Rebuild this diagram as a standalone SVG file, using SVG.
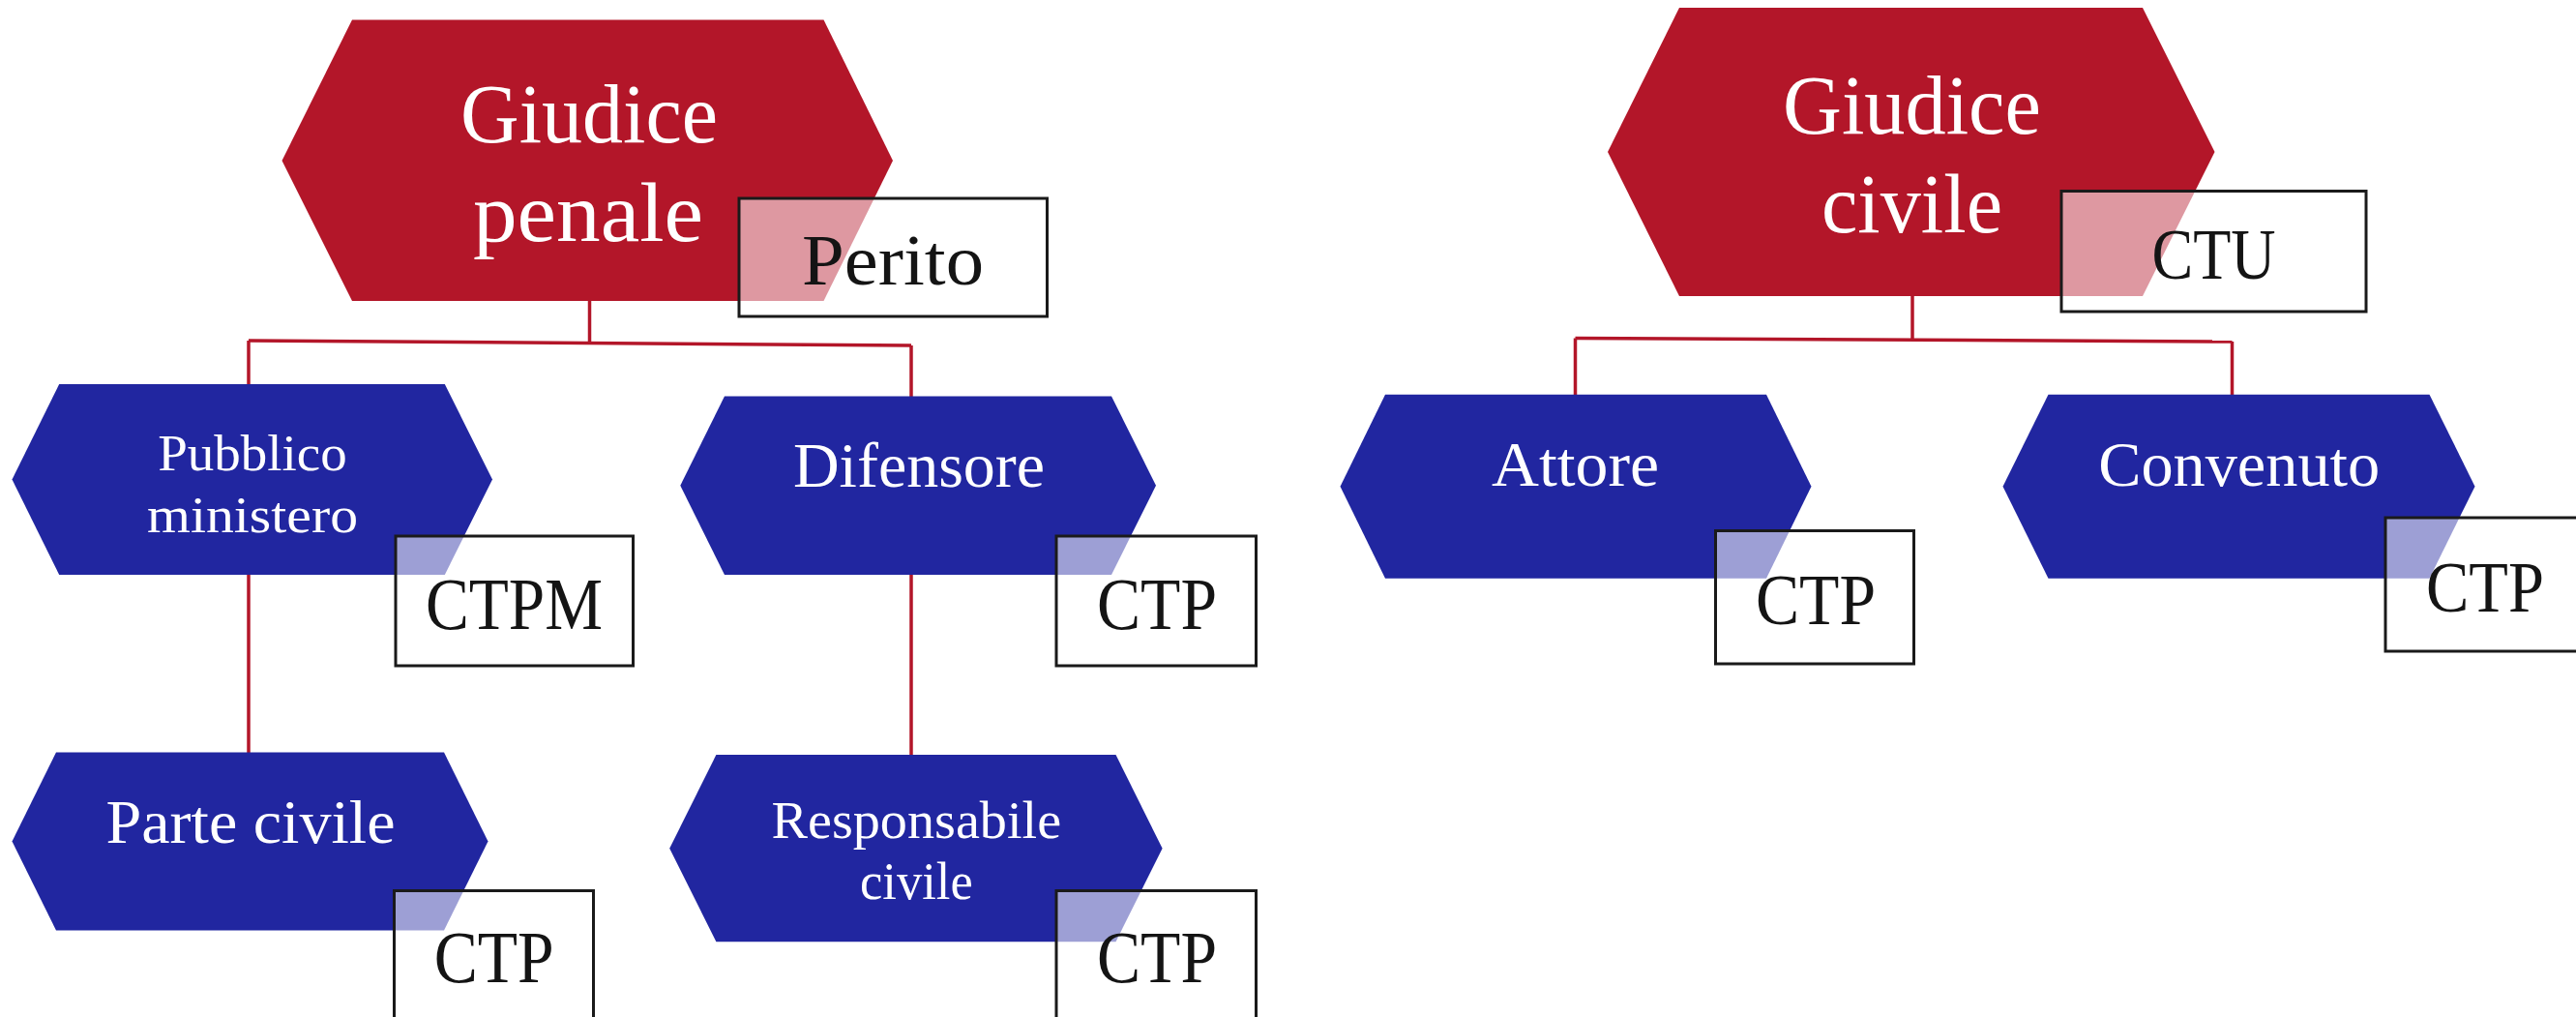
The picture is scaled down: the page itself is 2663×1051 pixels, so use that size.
<svg xmlns="http://www.w3.org/2000/svg" width="2663" height="1051" viewBox="0 0 2663 1051">
<style>
.bg{fill:#ffffff}
.red{fill:#b31629}
.blue{fill:#2126a0}
.box{fill:#ffffff;fill-opacity:0.56;stroke:#1a1a1a;stroke-width:3}
.conn{fill:none;stroke:#b31629;stroke-width:3.5}
text{font-family:"Liberation Serif","DejaVu Serif",serif;text-anchor:middle}
.w{fill:#ffffff}
.k{fill:#141414}
</style>
<rect class="bg" x="0" y="0" width="2663" height="1051"/>
<g id="connectors">
<path class="conn" d="M609.5,311 V353"/>
<path class="conn" d="M257,352 L942,357"/>
<path class="conn" d="M257,352 V397"/>
<path class="conn" d="M942,357 V410"/>
<path class="conn" d="M257,594 V778"/>
<path class="conn" d="M942,594 V780"/>
<path class="conn" d="M1977,306 V350"/>
<path class="conn" d="M1628.5,349.5 L2307.5,353"/>
<path class="conn" d="M1628.5,349.5 V408"/>
<path class="conn" d="M2307.5,353 V408"/>
</g>
<g id="giudice-penale">
<polygon class="red" points="364,20.5 851.5,20.5 923,166 851.5,311 364,311 291.5,166"/>
<text class="w" x="609" y="146.5" font-size="86" textLength="266" lengthAdjust="spacingAndGlyphs">Giudice</text>
<text class="w" x="608" y="248.5" font-size="86" textLength="238" lengthAdjust="spacingAndGlyphs">penale</text>
<rect class="box" x="764" y="205" width="318.5" height="122"/>
<text class="k" x="923" y="293.5" font-size="73" textLength="188" lengthAdjust="spacingAndGlyphs">Perito</text>
</g>
<g id="giudice-civile">
<polygon class="red" points="1736,8 2215,8 2289.5,157 2215,306 1736,306 1662,157"/>
<text class="w" x="1976.5" y="137.5" font-size="86" textLength="267" lengthAdjust="spacingAndGlyphs">Giudice</text>
<text class="w" x="1976.5" y="239.5" font-size="86" textLength="187" lengthAdjust="spacingAndGlyphs">civile</text>
<rect class="box" x="2131" y="197.5" width="315" height="124.5"/>
<text class="k" x="2288.5" y="287.5" font-size="74" textLength="128" lengthAdjust="spacingAndGlyphs">CTU</text>
</g>
<g id="pubblico-ministero">
<polygon class="blue" points="61.2,397 459.8,397 509,495.5 459.8,594 61.2,594 12.5,495.5"/>
<text class="w" x="261" y="485.5" font-size="53" textLength="195.5" lengthAdjust="spacingAndGlyphs">Pubblico</text>
<text class="w" x="261" y="549.5" font-size="53" textLength="218" lengthAdjust="spacingAndGlyphs">ministero</text>
<rect class="box" x="409" y="554" width="245.5" height="134"/>
<text class="k" x="531.5" y="649.5" font-size="77" textLength="183" lengthAdjust="spacingAndGlyphs">CTPM</text>
</g>
<g id="difensore">
<polygon class="blue" points="749,409.5 1149,409.5 1195,501.8 1149,594 749,594 703.3,501.8"/>
<text class="w" x="950" y="503" font-size="65" textLength="260" lengthAdjust="spacingAndGlyphs">Difensore</text>
<rect class="box" x="1092" y="554" width="206.5" height="134"/>
<text class="k" x="1196" y="649.5" font-size="77" textLength="124" lengthAdjust="spacingAndGlyphs">CTP</text>
</g>
<g id="parte-civile">
<polygon class="blue" points="58,777.5 459,777.5 504.5,869.5 459,961.5 58,961.5 12.5,869.5"/>
<text class="w" x="259" y="870.5" font-size="64" textLength="299" lengthAdjust="spacingAndGlyphs">Parte civile</text>
<rect class="box" x="407.5" y="920.5" width="206" height="134"/>
<text class="k" x="510.7" y="1015" font-size="77" textLength="124" lengthAdjust="spacingAndGlyphs">CTP</text>
</g>
<g id="responsabile-civile">
<polygon class="blue" points="740.4,780 1153.5,780 1201.6,876.7 1153.5,973.3 740.4,973.3 692.2,876.7"/>
<text class="w" x="947.3" y="865.7" font-size="55" textLength="299.6" lengthAdjust="spacingAndGlyphs">Responsabile</text>
<text class="w" x="947.4" y="929.3" font-size="55" textLength="116.7" lengthAdjust="spacingAndGlyphs">civile</text>
<rect class="box" x="1092" y="920.5" width="206.5" height="134"/>
<text class="k" x="1196" y="1015" font-size="77" textLength="124" lengthAdjust="spacingAndGlyphs">CTP</text>
</g>
<g id="attore">
<polygon class="blue" points="1432,407.7 1826,407.7 1872.5,502.7 1826,597.7 1432,597.7 1385.5,502.7"/>
<text class="w" x="1628.6" y="501.7" font-size="65" textLength="173" lengthAdjust="spacingAndGlyphs">Attore</text>
<rect class="box" x="1773.5" y="548.5" width="205" height="137.5"/>
<text class="k" x="1877" y="645" font-size="74" textLength="124" lengthAdjust="spacingAndGlyphs">CTP</text>
</g>
<g id="convenuto">
<polygon class="blue" points="2117.5,407.7 2511.5,407.7 2558.5,502.7 2511.5,597.7 2117.5,597.7 2070.5,502.7"/>
<text class="w" x="2314.7" y="501.7" font-size="65" textLength="291" lengthAdjust="spacingAndGlyphs">Convenuto</text>
<rect class="box" x="2466" y="535" width="206" height="138"/>
<text class="k" x="2569" y="631.7" font-size="74" textLength="122" lengthAdjust="spacingAndGlyphs">CTP</text>
</g>
</svg>
